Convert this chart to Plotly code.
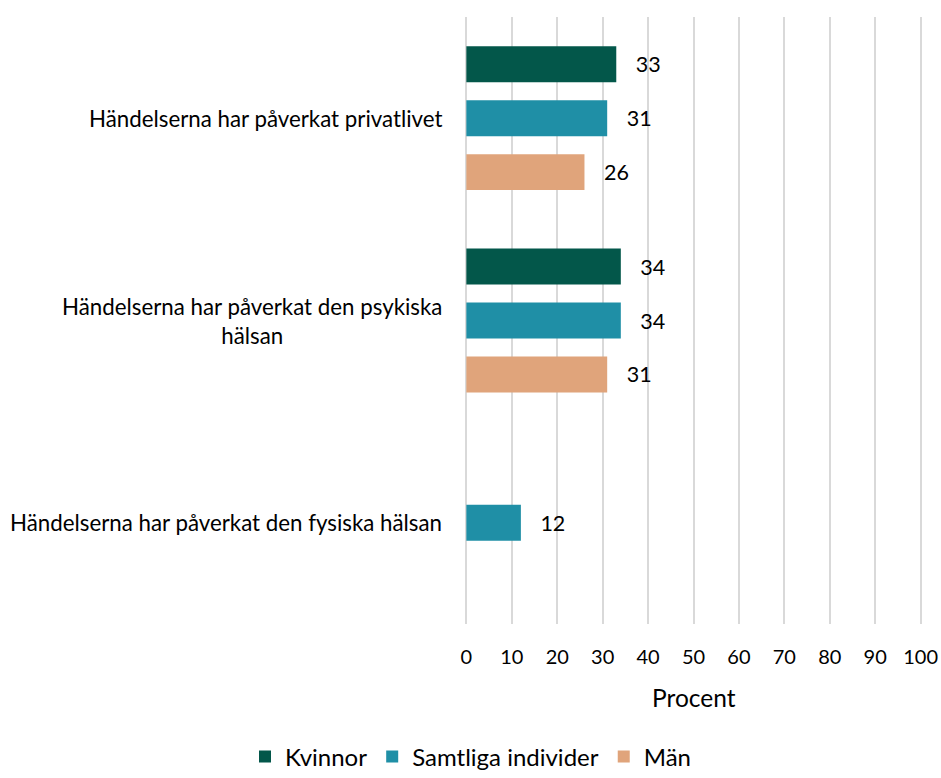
import plotly.graph_objects as go

categories = [
    "Händelserna har påverkat privatlivet",
    "Händelserna har påverkat den psykiska<br>hälsan",
    "Händelserna har påverkat den fysiska hälsan",
]
series_names = ["Kvinnor", "Samtliga individer", "Män"]
kvinnor = [33, 34, None]
samtliga = [31, 34, 12]
man = [26, 31, None]
x_ticks = [0, 10, 20, 30, 40, 50, 60, 70, 80, 90, 100]
x_title = "Procent"

colors = ["#03574A", "#1F8FA6", "#E0A47B"]
FONT = "Lato"

fig = go.Figure()
for name, vals, col in zip(series_names, [kvinnor, samtliga, man], colors):
    fig.add_trace(go.Bar(
        y=categories, x=vals, name=name, orientation="h",
        marker=dict(color=col, line=dict(width=0)),
        text=[("\u00a0\u00a0\u00a0" + str(v)) if v is not None else "" for v in vals],
        textposition="outside",
        textfont=dict(family=FONT, size=21.5, color="#000000"),
        cliponaxis=False,
        hoverinfo="skip",
    ))

for c in categories:
    fig.add_annotation(
        x=0, xref="paper", y=c, yref="y", text=c, showarrow=False,
        xanchor="right", align="center", xshift=-21,
        font=dict(family=FONT, size=22.3, color="#000000"),
    )

fig.add_annotation(
    x=0.5, xref="paper", y=0, yref="paper", text=x_title, showarrow=False,
    xanchor="center", yanchor="middle", yshift=-73,
    font=dict(family=FONT, size=24.5, color="#000000"),
)

fig.update_layout(
    width=941, height=778,
    margin=dict(l=465, r=19, t=17, b=154, autoexpand=False),
    paper_bgcolor="white", plot_bgcolor="white",
    barmode="group", bargap=0.2, bargroupgap=0.333,
    font=dict(family=FONT, size=19, color="#000000"),
    showlegend=True,
    legend=dict(orientation="h", x=0.5, xref="container", xanchor="center",
                y=0.027, yref="container", yanchor="middle",
                font=dict(family=FONT, size=24, color="#000000"),
                itemclick=False),
)
fig.update_xaxes(
    range=[-0.3, 100.3], tickvals=x_ticks, ticktext=[str(t) for t in x_ticks],
    showgrid=True, gridcolor="#D9D9D9", gridwidth=1.5,
    zeroline=False, showline=False, ticks="",
    automargin=False, ticklabelstandoff=19, ticklabeloverflow="allow",
    tickfont=dict(family=FONT, size=20),
)
fig.update_yaxes(
    autorange="reversed", showticklabels=False, showgrid=False,
    zeroline=False, showline=False, ticks="", automargin=False,
)

fig.write_html(
    "out.html",
    config={"displayModeBar": False},
    post_script="document.body.style.margin='0';document.body.style.overflow='hidden';",
)
